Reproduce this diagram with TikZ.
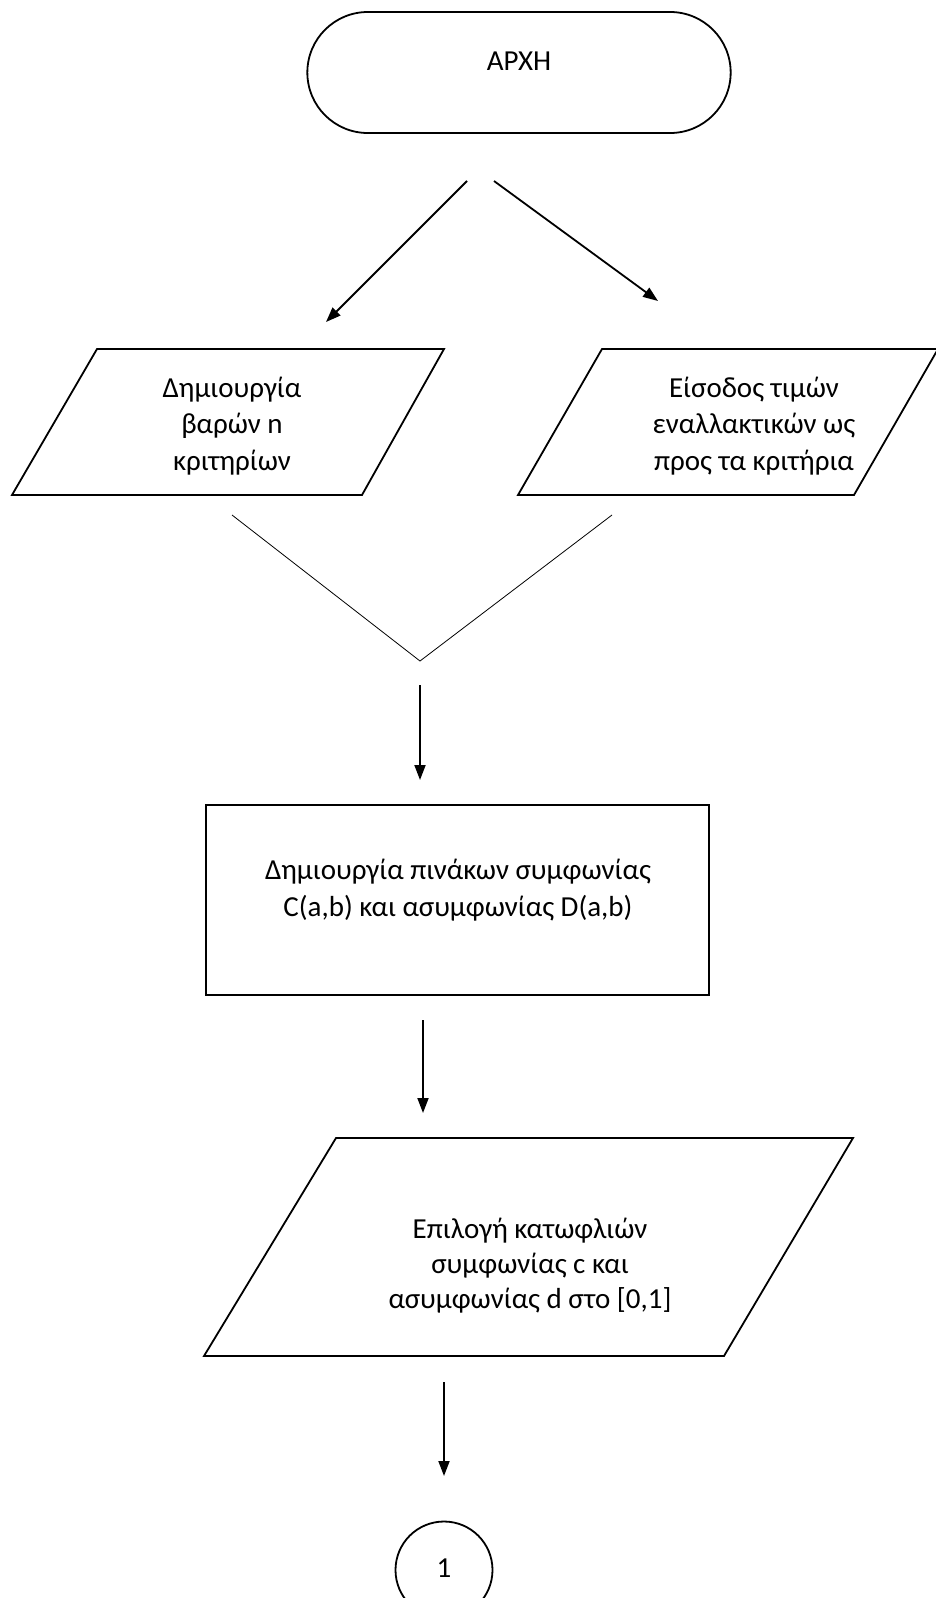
\documentclass[tikz,border=0pt]{standalone}
\usepackage{fontspec}
\setmainfont{Carlito}
\usetikzlibrary{arrows.meta,shapes.misc}

\begin{document}
\begin{tikzpicture}[x=1pt,y=-1pt,
            shp/.style={draw,line width=1.8pt},
            txt/.style={align=center,inner sep=0pt,font=\fontsize{29}{36.5}\selectfont},
            flow/.style={line width=1.8pt,-{Triangle[length=15pt,width=11pt]}}]
            \useasboundingbox (0,0) rectangle (936,1598);
            \clip (0,0) rectangle (936,1598);

            % start
            \node (start) at (519,72.5) [shp,rounded rectangle,minimum width=430,minimum height=121] {};
            \node (starttext) at (519,61) [txt] {ΑΡΧΗ};

            % two inputs
            \draw[shp] (97,349) -- (444,349) -- (362,495) -- (12,495) -- cycle;
            \node (weights) at (232,426) [txt] {Δημιουργία\\βαρών n\\κριτηρίων};
            \draw[shp] (602,349) -- (938,349) -- (854,495) -- (518,495) -- cycle;
            \node (values) at (754,426) [txt] {Είσοδος τιμών\\εναλλακτικών ως\\προς τα κριτήρια};

            \coordinate (s1) at (467,181);
            \coordinate (e1) at (326,322);
            \coordinate (s2) at (494,181);
            \coordinate (e2) at (658,301);
            \draw[flow] (s1) -- (e1);
            \draw[flow] (s2) -- (e2);

            % merge
            \coordinate (ml) at (232,515);
            \coordinate (mr) at (612,515);
            \coordinate (mv) at (420,661);
            \draw[line width=0.8pt] (ml) -- (mv) -- (mr);

            \coordinate (s3) at (420,685);
            \coordinate (e3) at (420,780);
            \draw[flow] (s3) -- (e3);

            % matrices
            \draw[shp] (206,805) rectangle (709,995);
            \node (matrix) at (458,890) [txt] {Δημιουργία πινάκων συμφωνίας\\C(a,b) και ασυμφωνίας D(a,b)};

            \coordinate (s4) at (423,1020);
            \coordinate (e4) at (423,1113);
            \draw[flow] (s4) -- (e4);

            % thresholds
            \draw[shp] (336,1138) -- (853,1138) -- (724,1356) -- (204,1356) -- cycle;
            \node (thresh) at (530,1266) [txt,font=\fontsize{29}{35}\selectfont] {Επιλογή κατωφλιών\\συμφωνίας c και\\ασυμφωνίας d στο [0,1]};

            \coordinate (s5) at (444,1382);
            \coordinate (e5) at (444,1476);
            \draw[flow] (s5) -- (e5);

            % connector
            \node (conn) at (444,1570) [shp,circle,minimum size=97] {};
            \node (conntext) at (444,1568) [txt] {1};
        \end{tikzpicture}
\end{document}
